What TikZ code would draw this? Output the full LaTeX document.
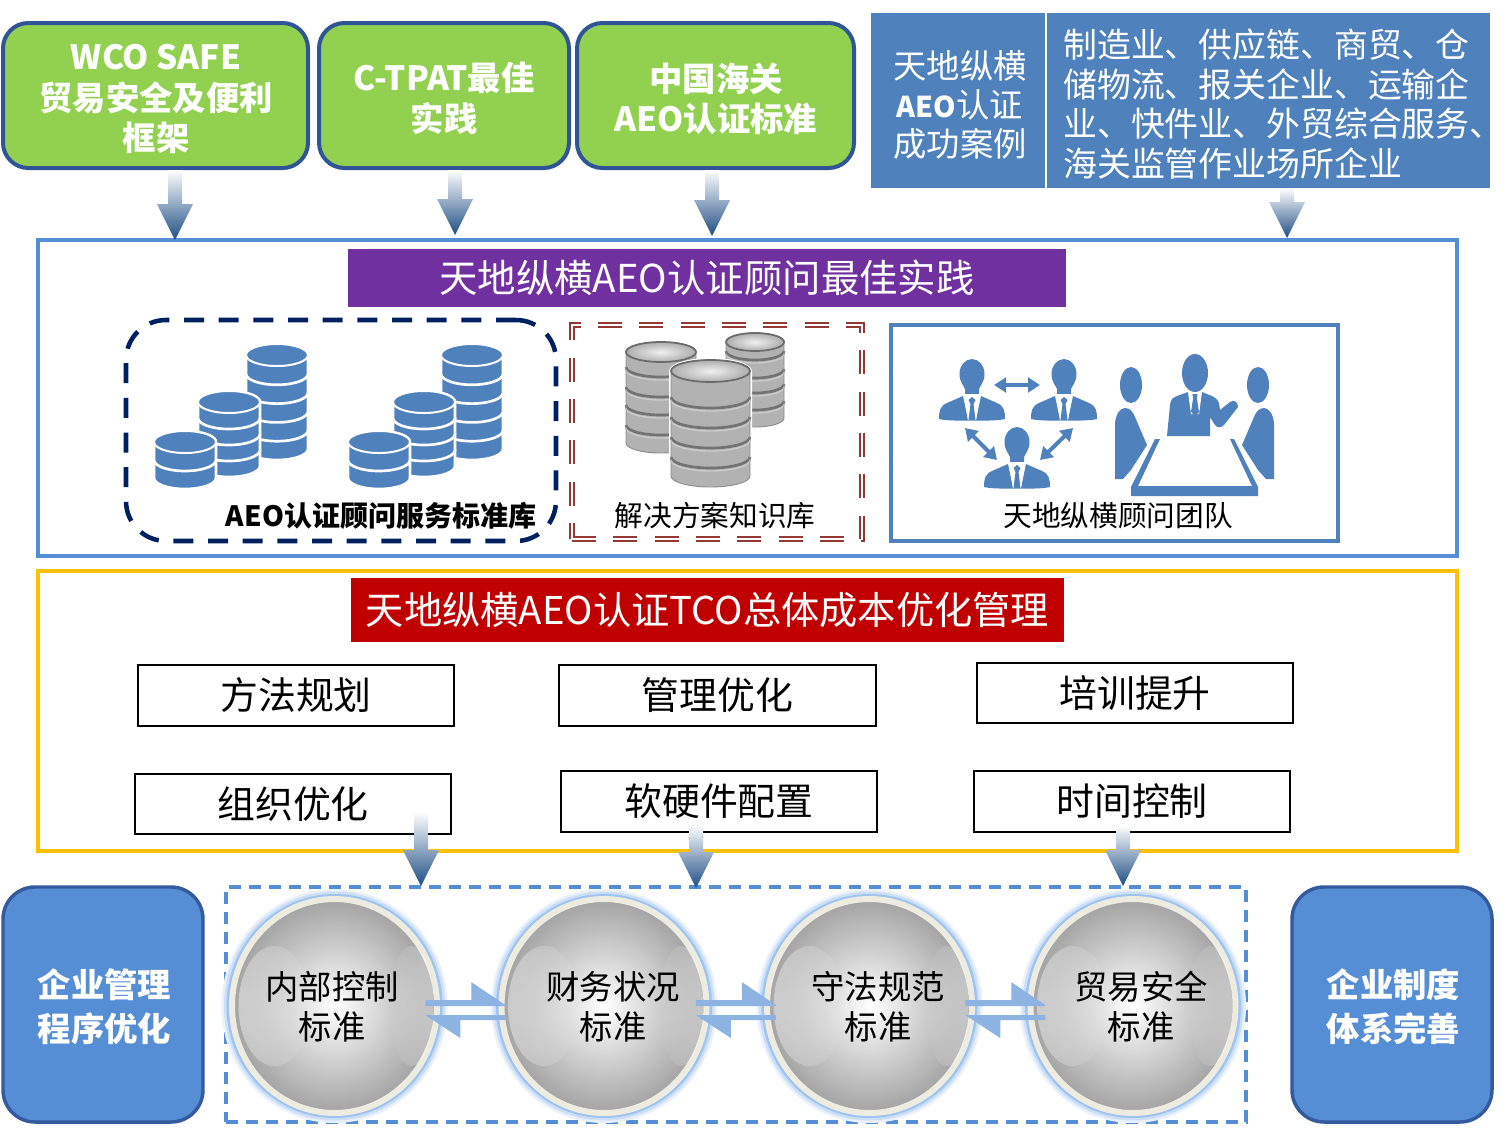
\documentclass[tikz,border=0pt]{standalone}
\usepackage{fontspec}
\setmainfont{Noto Sans CJK SC}
\usetikzlibrary{calc,shapes.geometric,arrows.meta,fadings}
\definecolor{grn}{HTML}{92D050}
\definecolor{navyb}{HTML}{2F5597}
\definecolor{steel}{HTML}{4F81BD}
\definecolor{sky}{HTML}{558ED5}
\definecolor{arrowmid}{HTML}{6A8CB4}
\definecolor{arrowtip}{HTML}{1F4E85}
\definecolor{pur}{HTML}{7030A0}
\definecolor{crim}{HTML}{C00000}
\definecolor{amber}{HTML}{FFC000}
\definecolor{navy}{HTML}{002060}
\definecolor{brick}{HTML}{953735}
\definecolor{cream}{HTML}{EEECE1}
\definecolor{halfarrow}{HTML}{8DB3E2}
\definecolor{glow}{HTML}{7FB0EC}
\newcommand{\fsz}[2]{\fontsize{#1pt}{#2pt}\selectfont}
% box given by its corners: options, name, x1, y1, x2, y2, text
\newcommand{\boxnode}[7][]{%
  \node[inner sep=0pt,outer sep=0pt,align=center,
    minimum width={(#5-#3)*0.75pt},minimum height={(#6-#4)*0.75pt},#1]
    (#2) at ({(#3+#5)/2},{(#4+#6)/2}) {#7};}
% block arrow: x, from node, to node, start offset, tip offset
\newcommand{\blockarrow}[5]{%
  \coordinate (tmpx) at (#1,0);
  \coordinate (as) at ($(tmpx |- #2.south)+(0,#4)$);
  \coordinate (at) at ($(tmpx |- #3.north)+(0,#5)$);
  \coordinate (ah) at ($(at)+(0,-36)$);
  \shade[top color=white,middle color=arrowmid,bottom color=arrowtip,shading angle=0]
    ([shift={(-7,0)}]as) -- ([shift={(-7,0)}]ah) -- ([shift={(-18,0)}]ah) -- (at)
    -- ([shift={(18,0)}]ah) -- ([shift={(7,0)}]ah) -- ([shift={(7,0)}]as) -- cycle;}
% one band of a stack
\newcommand{\cylband}[5]{%
  ({#1-(#4)},#2) -- ++(0,{#3}) arc[start angle=180,end angle=0,x radius={#4},y radius={#5}]
  -- ++(0,{-(#3)}) arc[start angle=0,end angle=-180,x radius={#4},y radius={#5}] -- cycle}
\newcommand{\bluestack}[4]{% cx, top, n, h
  \foreach \ii in {#3,...,1}{%
    \pgfmathsetmacro{\yy}{#2+11+(\ii-1)*#4}
    \filldraw[fill=steel,draw=white,line width=2pt] \cylband{#1}{\yy}{#4}{31}{11};
  }
  \filldraw[fill=steel,draw=white,line width=1.5pt] (#1,#2+11) ellipse[x radius=31,y radius=11];}
% grey disk stack: cx, rx, ry, ellipse centre, bottom centre, list of separators
\newcommand{\greystack}[6]{%
  \fill[white] \cylband{#1}{#4}{#5-#4}{#2+2}{#3+2};
  \shade[left color=black!30,middle color=black!6,right color=black!30]
    \cylband{#1}{#4}{#5-#4}{#2}{#3};
  \foreach \yy in {#6}{%
    \draw[black!55,line width=2pt] ({#1-#2},\yy) arc[start angle=180,end angle=0,x radius=#2,y radius=#3];
    \draw[black!20,line width=1pt] ({#1-#2},\yy+3) arc[start angle=180,end angle=0,x radius=#2,y radius=#3];
  }
  \draw[black!45,line width=.7pt] \cylband{#1}{#4}{#5-#4}{#2}{#3};
  \shade[inner color=black!6,outer color=black!32] (#1,#4) ellipse[x radius=#2,y radius=#3];
  \draw[black!58,line width=1.3pt] (#1,#4) ellipse[x radius=#2,y radius=#3];}
% team member
\newcommand{\person}[2]{%
  \begin{scope}[shift={(#1,#2)}]
    \fill[steel] (0,-18) .. controls (7,-18) and (12.5,-11) .. (12.5,-3)
      .. controls (12.5,5) and (8,9) .. (7,12) -- (7,17) -- (-7,17) -- (-7,12)
      .. controls (-8,9) and (-12.5,5) .. (-12.5,-3)
      .. controls (-12.5,-11) and (-7,-18) .. (0,-18) -- cycle;
    \fill[steel] (-33,42) .. controls (-33,34) and (-32,29) .. (-25,26) -- (-9,19) -- (-4,43) -- (4,43) -- (9,19)
      -- (25,26) .. controls (32,29) and (33,34) .. (33,42) .. controls (25,44) and (10,43.5) .. (0,43.5)
      .. controls (-10,43.5) and (-25,44) .. (-33,42) -- cycle;
    \fill[white] (-8,17) -- (0,17) -- (8,17) -- (4,43) -- (-4,43) -- cycle;
    \fill[steel] (-3.5,23) -- (0,20) -- (3.5,23) -- (1.5,27) -- (3.5,43) -- (-3.5,43) -- (-1.5,27) -- cycle;
  \end{scope}}
% pair of half arrows between two circles; third argument shifts them along x
\newcommand{\halfarrows}[3]{%
  \coordinate (mm) at ($(#1.center)!.5!(#2.center)+(#3,0)$);
  \fill[halfarrow] ([shift={(-43,-6)}]mm) -- ([shift={(3,-6)}]mm) -- ([shift={(3,-24)}]mm)
     -- ([shift={(37,-1)}]mm) -- ([shift={(37,0)}]mm) -- ([shift={(-43,0)}]mm) -- cycle;
  \fill[halfarrow] ([shift={(37,9)}]mm) -- ([shift={(-43,9)}]mm) -- ([shift={(-8,32)}]mm)
     -- ([shift={(-8,14)}]mm) -- ([shift={(37,14)}]mm) -- cycle;}
\newcommand{\ball}[3]{% name, x, y
  \node[ellipse,minimum width=226*0.75pt,minimum height=234*0.75pt,fill=glow!18] at (#2,#3) {};
  \node[ellipse,minimum width=221*0.75pt,minimum height=229*0.75pt,fill=glow!40] at (#2,#3) {};
  \node[ellipse,minimum width=216*0.75pt,minimum height=224*0.75pt,fill=glow!75] at (#2,#3) {};
  \node[ellipse,inner sep=0pt,outer sep=0pt,minimum width=205*0.75pt,minimum height=214*0.75pt,
    draw=cream,line width=4.5pt,inner color=white,outer color=black!36] (#1) at (#2,#3) {};
  \fill[white,fill opacity=.4,path fading=east] (#2-60,#3) ellipse[x radius=36,y radius=60];
  \fill[white,fill opacity=.35,path fading=west] (#2+77,#3) ellipse[x radius=22,y radius=60];}
\tikzset{
  greenbox/.style={draw=navyb,line width=3pt,fill=grn,rounded corners=19pt},
  greentext/.style={text=white,font=\fsz{25}{30.5}\bfseries,align=center,inner sep=0pt},
  headblue/.style={fill=steel},
  banner/.style={text=white},
  bluecard/.style={draw=navyb!90!sky,line width=2.6pt,fill=sky,rounded corners=24pt},
  cardtext/.style={text=white,font=\fsz{25}{33}\bfseries,align=center,inner sep=0pt},
  item/.style={draw=black,line width=1.5pt,fill=white,font=\fsz{28.4}{34}},
  ballword/.style={font=\fsz{25}{30},align=center,inner sep=0pt},
  caption/.style={font=\fsz{21.5}{26},inner sep=0pt},
}
\begin{document}
\begin{tikzpicture}[x=0.75pt,y=-0.75pt]
\useasboundingbox (0,0) rectangle (1503,1129);
\fill[white] (0,0) rectangle (1503,1129);

% frames first
\boxnode[draw=sky,line width=3pt]{frameA}{38}{240}{1457}{556}{}
\boxnode[draw=amber,line width=3.2pt]{frameB}{38}{571}{1457}{851}{}
\boxnode[draw=sky,line width=3.4pt,dash pattern=on 9pt off 6pt]{frameC}{226}{887}{1246}{1122}{}

% top row
\boxnode[greenbox]{wco}{3}{23}{308}{168}{}
\boxnode[greenbox]{tpat}{319}{23}{569}{168}{}
\boxnode[greenbox]{cn}{577}{23}{854}{168}{}
\node[greentext] (wcot) at (156,99) {WCO SAFE\\贸易安全及便利\\框架};
\node[greentext] (tpatt) at (444,98) {C-TPAT最佳\\实践};
\node[greentext] (cnt) at (716,99) {中国海关\\AEO认证标准};
\boxnode[headblue]{cases}{871}{13}{1045}{188}{}
\node[text=white,font=\fsz{25}{29.5},align=center,inner sep=0pt] (casest) at (960,105)
  {天地纵横\\\textbf{\fsz{21.5}{29.5}AEO}认证\\成功案例};
\boxnode[headblue]{sectors}{1047}{13}{1490}{188}{}
\node[text=white,font=\fsz{25.4}{29.6},align=left,inner sep=0pt,anchor=west] (sectext) at (1063,104)
  {制造业、供应链、商贸、仓\\储物流、报关企业、运输企\\业、快件业、外贸综合服务、\\海关监管作业场所企业};

\blockarrow{175}{wco}{frameA}{2}{0}
\blockarrow{455}{tpat}{frameA}{2}{-5}
\blockarrow{712}{cn}{frameA}{2}{-4}
\blockarrow{1287}{sectors}{frameA}{0}{-2}

% best practice
\boxnode[fill=pur,banner,font=\fsz{28.8}{34}]{bestp}{348}{249}{1066}{307}{天地纵横AEO认证顾问最佳实践}
\boxnode[draw=navy,line width=3.4pt,rounded corners=30pt,dash pattern=on 15pt off 11pt]{lib}{126}{320}{556}{541}{}
\boxnode[draw=brick,line width=1.2pt,double,double distance=1.5pt,dash pattern=on 18pt off 13pt]{know}{572}{325}{862}{539}{}
\boxnode[draw=steel,line width=2.6pt]{team}{891}{325}{1338}{541}{}

\bluestack{277}{344}{5}{18.8}
\bluestack{229}{391}{4}{16}
\bluestack{185}{431}{2}{18}
\bluestack{472}{344}{5}{18.8}
\bluestack{424}{391}{4}{16}
\bluestack{379}{431}{2}{18}

\greystack{755}{29}{9}{342}{418}{351,369,384,401}
\greystack{661}{35}{10}{352}{443}{367,387,405,425}
\greystack{710.5}{39.5}{11}{371}{476}{397,417,437,457}

\node[caption,font=\fsz{21}{26}] (libcap) at (381,516) {\textbf{AEO认证顾问服务标准库}};
\node[caption] (knowcap) at (715,516) {解决方案知识库};
\node[caption] (teamcap) at (1118,516) {天地纵横顾问团队};

\person{972}{377}
\person{1064}{377}
\person{1017}{445}
\tikzset{dbl/.style={steel,line width=3pt,{Triangle[width=11pt,length=9pt]}-{Triangle[width=11pt,length=9pt]}}}
\coordinate (ta) at (994,385); \coordinate (tb) at (1040,385);
\coordinate (tc) at (965,428); \coordinate (td) at (997,460);
\coordinate (te) at (1073,428); \coordinate (tf) at (1040,460);
\draw[dbl] (ta) -- (tb);
\draw[dbl] (tc) -- (td);
\draw[dbl] (te) -- (tf);
% meeting group
\fill[steel] (1131,385) ellipse[x radius=11,y radius=18];
\fill[steel] (1258,385) ellipse[x radius=11,y radius=18];
\fill[steel] (1195,373) ellipse[x radius=13,y radius=19];
\fill[steel] (1115,479) -- (1115,423) .. controls (1116,414) and (1120,408) .. (1125,408)
  .. controls (1130,408) and (1133,412) .. (1135,417) -- (1147,445) -- (1131,470) -- (1123,479) -- cycle;
\fill[steel] (1274,479) -- (1274,423) .. controls (1273,414) and (1269,408) .. (1264,408)
  .. controls (1259,408) and (1256,412) .. (1254,417) -- (1242,445) -- (1258,470) -- (1266,479) -- cycle;
\fill[steel] (1167,436) -- (1170,405) .. controls (1171,398) and (1174,397) .. (1177,396) -- (1188,392)
  -- (1202,392) -- (1212,396) .. controls (1215,397) and (1217,399) .. (1219,403) -- (1220,410)
  -- (1230,402) .. controls (1234,399) and (1238,402) .. (1238,407) -- (1224,425)
  .. controls (1221,428) and (1217,428) .. (1215,425) -- (1210,417) -- (1210,436) -- cycle;
\fill[white] (1188,392) -- (1202,392) -- (1199,414) -- (1191,414) -- cycle;
\fill[steel] (1192.5,394) -- (1197.5,394) -- (1197,399) -- (1199,412) -- (1195,416) -- (1191,412) -- (1193,399) -- cycle;
\fill[steel] (1155,439) -- (1160,439) -- (1138,486) -- (1252,486) -- (1230,439) -- (1234,439)
  -- (1258,487) -- (1258,496) -- (1131,496) -- (1131,487) -- cycle;

% TCO
\boxnode[fill=crim,banner,font=\fsz{28.7}{34}]{tco}{351}{578}{1064}{642}{天地纵横AEO认证TCO总体成本优化管理}
\boxnode[item]{m1}{138}{665}{454}{726}{方法规划}
\boxnode[item]{m2}{559}{665}{876}{726}{管理优化}
\boxnode[item]{m3}{977}{663}{1293}{723}{培训提升}
\boxnode[item]{m4}{135}{774}{451}{834}{组织优化}
\boxnode[item]{m5}{561}{771}{877}{832}{软硬件配置}
\boxnode[item]{m6}{974}{771}{1290}{832}{时间控制}

\blockarrow{421}{m4}{frameC}{-22}{-1}
\blockarrow{696}{m5}{frameC}{-7}{1}
\blockarrow{1123}{m6}{frameC}{-7}{-1}

% bottom row
\boxnode[bluecard]{mgmt}{3}{887}{203}{1122}{}
\boxnode[bluecard]{inst}{1292}{887}{1492}{1122}{}
\node[cardtext] (mgmtt) at (104.5,1007) {企业管理\\程序优化};
\node[cardtext] (instt) at (1393.5,1007) {企业制度\\体系完善};

\ball{c1}{334.5}{1006}
\ball{c2}{604}{1006}
\ball{c3}{869.5}{1006}
\ball{c4}{1133}{1006}
\halfarrows{c1}{c2}{-1}
\halfarrows{c2}{c3}{2}
\halfarrows{c3}{c4}{7}
\node[ballword] (w1) at (332,1007) {内部控制\\标准};
\node[ballword] (w2) at (613,1007) {财务状况\\标准};
\node[ballword] (w3) at (878,1007) {守法规范\\标准};
\node[ballword] (w4) at (1141,1007) {贸易安全\\标准};
\end{tikzpicture}
\end{document}
